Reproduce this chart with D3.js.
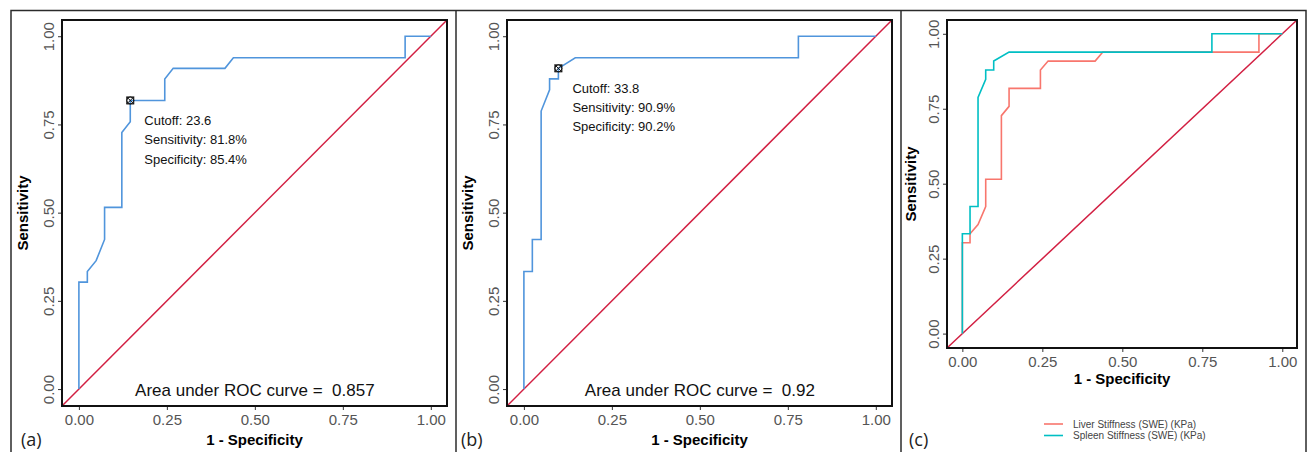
<!DOCTYPE html>
<html>
<head>
<meta charset="utf-8">
<script src="https://cdn.jsdelivr.net/npm/d3@7"></script>
<style>
body { margin: 0; background: #fff; }
text { font-family: "Liberation Sans", Arial, sans-serif; }
</style>
</head>
<body>
<script>
//chart size
var w = 1308;
var h = 452;

//axis ticks (same for x and y)
var tickValues = [0, 0.25, 0.5, 0.75, 1];

//liver stiffness ROC curve (1 - specificity, sensitivity)
var liverFpr = [0, 0, 0.024, 0.024, 0.049, 0.073, 0.073, 0.122, 0.122, 0.146, 0.146, 0.244, 0.244, 0.268, 0.415, 0.439, 0.927, 0.927, 1];
var liverTpr = [0, 0.303, 0.303, 0.333, 0.364, 0.424, 0.515, 0.515, 0.727, 0.758, 0.818, 0.818, 0.879, 0.909, 0.909, 0.939, 0.939, 1, 1];

//spleen stiffness ROC curve
var spleenFpr = [0, 0, 0.024, 0.024, 0.049, 0.049, 0.073, 0.073, 0.098, 0.098, 0.146, 0.780, 0.780, 1];
var spleenTpr = [0, 0.333, 0.333, 0.424, 0.424, 0.788, 0.848, 0.879, 0.879, 0.909, 0.939, 0.939, 1, 1];

//best cutoff points and their labels
var liverCutoff = [0.146, 0.818];
var liverCutoffText = ["Cutoff: 23.6", "Sensitivity: 81.8%", "Specificity: 85.4%"];
var spleenCutoff = [0.098, 0.909];
var spleenCutoffText = ["Cutoff: 33.8", "Sensitivity: 90.9%", "Specificity: 90.2%"];

//area under curve labels
var liverAuc = "0.857";
var spleenAuc = "0.92";

//legend
var legendNames = ["Liver Stiffness (SWE) (KPa)", "Spleen Stiffness (SWE) (KPa)"];
var legendColors = ["#F8766D", "#00BFC4"];

var blue = "#5095dc";
var red = "#d21f42";

function zip(a, b) {
    return a.map(function(d, i) { return [d, b[i]]; });
}

var svg = d3.select("body")
    .append("svg")
    .attr("width", w)
    .attr("height", h);

//outer frame and dividers
svg.append("rect")
    .attr("x", 11).attr("y", 10.5)
    .attr("width", 1295).attr("height", 460)
    .attr("fill", "none").attr("stroke", "#2b2b2b").attr("stroke-width", 1.5);
[456, 901].forEach(function(x) {
    svg.append("line")
        .attr("x1", x).attr("x2", x).attr("y1", 10).attr("y2", h)
        .attr("stroke", "#2b2b2b").attr("stroke-width", 1.5);
});

//draws one ROC panel into box b
function panel(b, curves, tag, tagX) {
    var g = svg.append("g");
    var x = d3.scaleLinear().domain([-0.048, 1.046]).range([b.x, b.x + b.w]);
    var y = d3.scaleLinear().domain([-0.048, 1.046]).range([b.y + b.h, b.y]);
    var line = d3.line()
        .x(function(d) { return x(d[0]); })
        .y(function(d) { return y(d[1]); });

    //x axis
    var xa = g.append("g")
        .attr("transform", "translate(0," + (b.y + b.h) + ")")
        .call(d3.axisBottom(x).tickValues(tickValues).tickFormat(d3.format(".2f")).tickSize(4).tickSizeOuter(0));
    xa.select(".domain").remove();
    xa.selectAll("line").attr("stroke", "#333");
    xa.selectAll("text")
        .attr("y", 8).attr("dy", "0.71em")
        .attr("fill", "#555").style("font-size", "15px");

    //y axis, labels turned sideways
    var ya = g.append("g")
        .attr("transform", "translate(" + b.x + ",0)")
        .call(d3.axisLeft(y).tickValues(tickValues).tickFormat(d3.format(".2f")).tickSize(4).tickSizeOuter(0));
    ya.select(".domain").remove();
    ya.selectAll("line").attr("stroke", "#333");
    ya.selectAll("text")
        .attr("x", 0).attr("dy", 0)
        .attr("text-anchor", "middle")
        .attr("dominant-baseline", "central")
        .attr("transform", "translate(-14,0) rotate(-90)")
        .attr("fill", "#555").style("font-size", "15px");

    //axis titles
    g.append("text")
        .text("1 - Specificity")
        .attr("x", b.x + b.w / 2)
        .attr("y", b.y + b.h + b.titleGap)
        .attr("text-anchor", "middle")
        .style("font-size", "15px").style("font-weight", "bold");
    g.append("text")
        .text("Sensitivity")
        .attr("transform", "translate(" + (b.x - b.titleGap + 5) + "," + (b.y + b.h / 2) + ") rotate(-90)")
        .attr("text-anchor", "middle")
        .style("font-size", "15px").style("font-weight", "bold");

    //diagonal reference
    g.append("path")
        .attr("d", line([[-0.048, -0.048], [1.046, 1.046]]))
        .attr("fill", "none").attr("stroke", red).attr("stroke-width", 1.5);

    //curves
    curves.forEach(function(c) {
        g.append("path")
            .attr("d", line(zip(c.fpr, c.tpr)))
            .attr("fill", "none").attr("stroke", c.color).attr("stroke-width", 1.6);

        if (c.cutoff) {
            var cx = x(c.cutoff[0]), cy = y(c.cutoff[1]);
            g.append("rect")
                .attr("x", cx - 3.5).attr("y", cy - 3.5).attr("width", 7).attr("height", 7)
                .attr("fill", "none").attr("stroke", "#111").attr("stroke-width", 1);
            g.append("circle")
                .attr("cx", cx).attr("cy", cy).attr("r", 3.5)
                .attr("fill", "none").attr("stroke", "#111").attr("stroke-width", 1);
            g.append("path")
                .attr("d", "M" + (cx - 3.5) + "," + (cy - 3.5) + "L" + (cx + 3.5) + "," + (cy + 3.5) +
                           "M" + (cx - 3.5) + "," + (cy + 3.5) + "L" + (cx + 3.5) + "," + (cy - 3.5))
                .attr("stroke", "#111").attr("stroke-width", 1);
            g.selectAll(null)
                .data(c.cutoffText)
                .enter()
                .append("text")
                .text(function(d) { return d; })
                .attr("x", cx + 14)
                .attr("y", function(d, i) { return cy + 24.5 + i * 19.3; })
                .attr("fill", "#111")
                .style("font-size", "13px");
        }
        if (c.auc) {
            g.append("text")
                .text("Area under ROC curve =\u00a0 " + c.auc)
                .attr("x", x(0.5))
                .attr("y", y(0) + 7)
                .attr("text-anchor", "middle")
                .attr("fill", "#111")
                .style("font-size", "17px");
        }
    });

    //plot border
    g.append("rect")
        .attr("x", b.x).attr("y", b.y).attr("width", b.w).attr("height", b.h)
        .attr("fill", "none").attr("stroke", "#111").attr("stroke-width", 2);

    //panel tag
    svg.append("text")
        .text(tag)
        .attr("x", tagX).attr("y", 446)
        .style("font-family", "'Open Sans', sans-serif")
        .style("font-size", "18px").attr("fill", "#222");
}

panel({x: 62, y: 20, w: 385, h: 386, titleGap: 39},
      [{fpr: liverFpr, tpr: liverTpr, color: blue, cutoff: liverCutoff, cutoffText: liverCutoffText, auc: liverAuc}],
      "(a)", 21);

panel({x: 507, y: 20, w: 385, h: 386, titleGap: 39},
      [{fpr: spleenFpr, tpr: spleenTpr, color: blue, cutoff: spleenCutoff, cutoffText: spleenCutoffText, auc: spleenAuc}],
      "(b)", 461);

panel({x: 947, y: 20, w: 350, h: 328, titleGap: 36},
      [{fpr: liverFpr, tpr: liverTpr, color: legendColors[0]},
       {fpr: spleenFpr, tpr: spleenTpr, color: legendColors[1]}],
      "(c)", 909);

//legend for panel c
var legend = svg.selectAll(".legend")
    .data(legendNames)
    .enter()
    .append("g")
    .attr("transform", function(d, i) { return "translate(1044," + (424 + i * 11.5) + ")"; });
legend.append("line")
    .attr("x1", 0).attr("x2", 19)
    .attr("stroke", function(d, i) { return legendColors[i]; })
    .attr("stroke-width", 1.6);
legend.append("text")
    .text(function(d) { return d; })
    .attr("x", 29).attr("y", 3.5)
    .attr("fill", "#444")
    .style("font-size", "10px");
</script>
</body>
</html>
